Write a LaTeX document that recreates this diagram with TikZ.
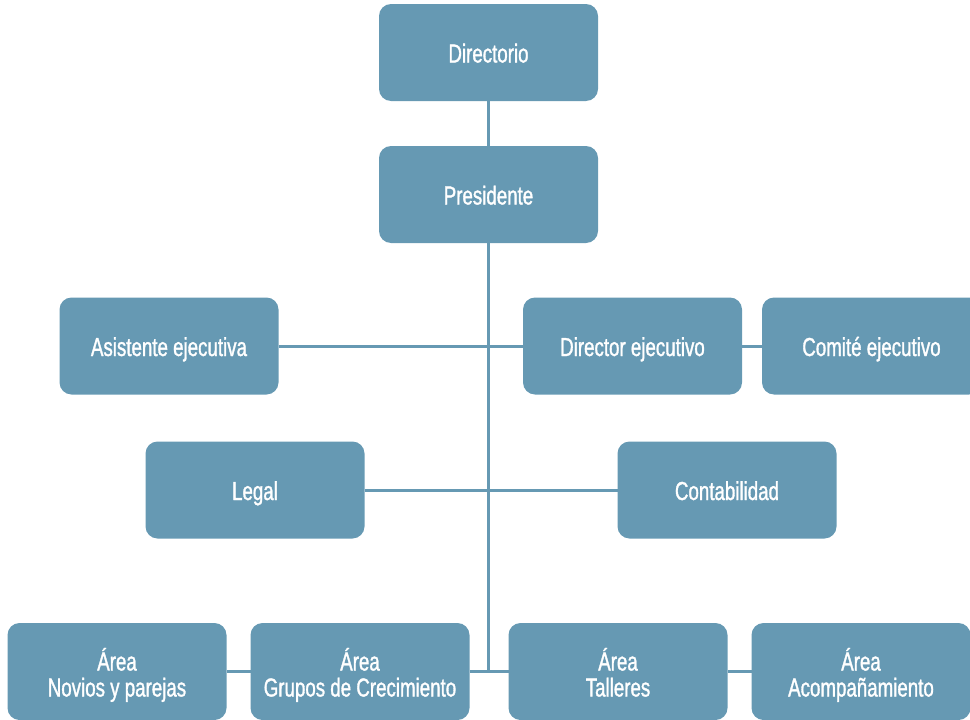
\documentclass[tikz,border=0pt]{standalone}
\usepackage{fontspec}
\setmainfont{Liberation Sans}[FakeStretch=0.72,FakeBold=1.2]
\usetikzlibrary{positioning}
\definecolor{orgblue}{HTML}{6699B3}

\begin{document}
\begin{tikzpicture}[x=1pt,y=-1pt,line width=3pt,draw=orgblue,
                    node distance=20pt]
      \tikzstyle{unit}=[fill=orgblue,text=white,rounded corners=12pt,outer sep=0pt,
                        minimum width=219pt,minimum height=97pt,align=center,
                        font=\fontsize{26}{26}\selectfont,text height=20pt,text depth=0pt]
      \tikzstyle{area}=[unit,text height=50pt,text depth=0pt]
      \useasboundingbox (0,0) rectangle (970,720);

      \node[unit]     (dir)      at (488.5,52.5)                  {Directorio};
      \node[unit]     (pres)     [below=45pt of dir]              {Presidente};
      \node[unit]     (asis)     at (169,346)                     {Asistente ejecutiva};
      \node[unit]     (direj)    at (632.5,346)                   {Director ejecutivo};
      \node[unit]     (comite)   [right=of direj]                 {Comité ejecutivo};
      \node[unit]     (legal)    at (255,490)                     {Legal};
      \node[unit]     (conta)    at (727,490)                     {Contabilidad};
      \node[area]     (novios)   at (117,671.5)                   {Área\\Novios y parejas};
      \node[area]     (grupos)   [right=24pt of novios]           {Área\\Grupos de Crecimiento};
      \node[area]     (talleres) [right=39pt of grupos]           {Área\\Talleres};
      \node[area]     (acomp)    [right=24pt of talleres]         {Área\\Acompañamiento};
      \coordinate     (base)     at (pres |- grupos);

      \path (dir)      edge (pres)
            (pres)     edge (base)
            (asis)     edge (direj)
            (direj)    edge (comite)
            (legal)    edge (conta)
            (novios)   edge (grupos)
            (grupos)   edge (talleres)
            (talleres) edge (acomp)
            ;
\end{tikzpicture}
\end{document}
